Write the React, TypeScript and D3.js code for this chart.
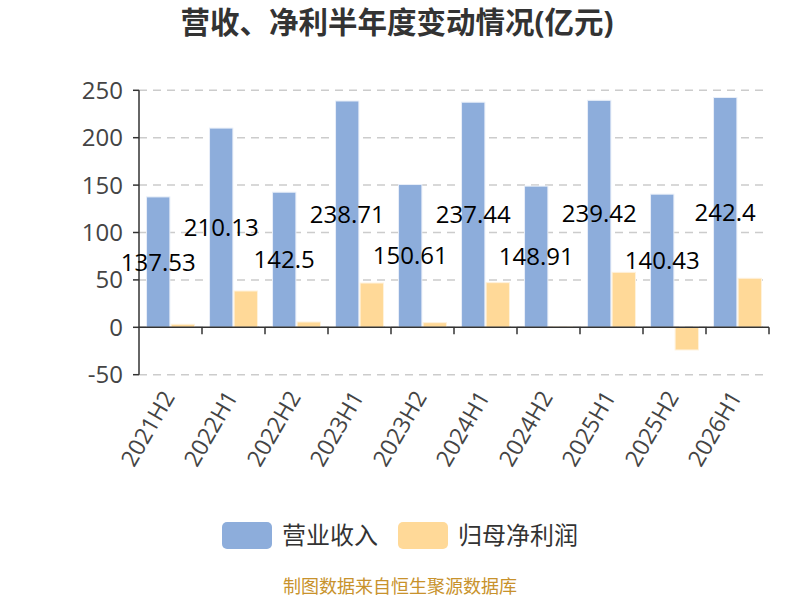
import * as d3 from 'd3';

const categories = ['2021H2', '2022H1', '2022H2', '2023H1', '2023H2', '2024H1', '2024H2', '2025H1', '2025H2', '2026H1'];
const revenue = [137.53, 210.13, 142.5, 238.71, 150.61, 237.44, 148.91, 239.42, 140.43, 242.4];
const netProfit = [3.2, 38.3, 5.6, 46.7, 4.9, 47.1, 0.5, 58, -23.9, 51.7];
const yTicks = [-50, 0, 50, 100, 150, 200, 250];
const seriesNames = ['营业收入', '归母净利润'];
const seriesColors = ['#8daddb', '#ffd998'];

const W = 800;
const H = 600;
const FONT = '"Open Sans", "Noto Sans CJK SC", sans-serif';

export default function App() {
    const x = d3.scaleBand().domain(categories).range([139, 769]).paddingInner(0.2).paddingOuter(0.1);
    const inner = d3.scaleBand().domain(['0', '1']).range([0, x.bandwidth()]).padding(0.05);
    const y = d3.scaleLinear().domain([-50, 250]).range([374.7, 90.3]);
    const step = x.step();
    const left = 139;
    const right = 769;

    return (
        <svg width={W} height={H} style={{ position: 'absolute', left: 0, top: 0, background: '#fff' }} fontFamily={FONT}>
            <text x={397} y={33} textAnchor="middle" fontSize={29.5} fontWeight="bold" fill="#333">
                营收、净利半年度变动情况(亿元)
            </text>

            {/* grid */}
            {yTicks.map((t) => (
                <line key={t} x1={left} x2={right} y1={y(t)} y2={y(t)} stroke="#ccc" strokeDasharray="8,6" strokeWidth={1.5} />
            ))}

            {/* y axis */}
            <line x1={left} x2={left} y1={y(250)} y2={y(-50)} stroke="#333" strokeWidth={1.5} />
            {yTicks.map((t) => (
                <g key={'yt' + t}>
                    <line x1={left - 6} x2={left} y1={y(t)} y2={y(t)} stroke="#333" strokeWidth={1.5} />
                    <text x={left - 16} y={y(t)} dy="0.35em" textAnchor="end" fontSize={24} fill="#444">
                        {t}
                    </text>
                </g>
            ))}

            {/* bars */}
            {categories.map((c, i) => (
                <g key={c} transform={`translate(${x(c)},0)`}>
                    <rect
                        x={inner('0')}
                        width={inner.bandwidth()}
                        y={y(Math.max(0, revenue[i]))}
                        height={Math.abs(y(revenue[i]) - y(0))}
                        fill={seriesColors[0]}
                        stroke="#e8eef8"
                        strokeWidth={1}
                    />
                    <rect
                        x={inner('1')}
                        width={inner.bandwidth()}
                        y={y(Math.max(0, netProfit[i]))}
                        height={Math.abs(y(netProfit[i]) - y(0))}
                        fill={seriesColors[1]}
                        stroke="#fff2dc"
                        strokeWidth={1}
                    />
                </g>
            ))}

            {/* x axis */}
            <line x1={left} x2={right} y1={y(0)} y2={y(0)} stroke="#333" strokeWidth={1.5} />
            {categories.map((c, i) => (
                <g key={'xt' + c}>
                    <line x1={left + step * (i + 1)} x2={left + step * (i + 1)} y1={y(0)} y2={y(0) + 7} stroke="#333" strokeWidth={1.5} />
                    <text
                        transform={`translate(${(x(c) ?? 0) + x.bandwidth() / 2 - 2},${y(-50) + 18}) rotate(-60)`}
                        textAnchor="end"
                        dy="0.35em"
                        fontSize={23}
                        fill="#444"
                    >
                        {c}
                    </text>
                </g>
            ))}

            {/* revenue labels */}
            {categories.map((c, i) => (
                <text
                    key={'lb' + c}
                    x={(x(c) ?? 0) + (inner('0') ?? 0) + inner.bandwidth() / 2}
                    y={y(revenue[i] / 2)}
                    dy="0.35em"
                    textAnchor="middle"
                    fontSize={24}
                    fill="#000"
                >
                    {revenue[i]}
                </text>
            ))}

            {/* legend */}
            {seriesNames.map((n, i) => (
                <g key={n} transform={`translate(${222 + i * 176},522)`}>
                    <rect width={50} height={27} rx={5} fill={seriesColors[i]} />
                    <text x={60} y={14} dy="0.35em" fontSize={24} fill="#333">
                        {n}
                    </text>
                </g>
            ))}

            <text x={400} y={587} dy="0.35em" textAnchor="middle" fontSize={18} fill="#c8922c">
                制图数据来自恒生聚源数据库
            </text>
        </svg>
    );
}
